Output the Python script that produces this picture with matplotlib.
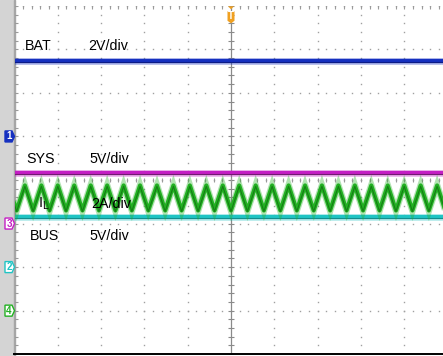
import numpy as np
import matplotlib.pyplot as plt
from matplotlib.patches import Polygon, Rectangle

plt.rcParams['font.family'] = ['Liberation Sans', 'DejaVu Sans']

# screen: 10 x 8 divisions, pixels per division on the saved image
PX_X = 43.3
PX_Y = 43.55

# channel settings (volts or amps per division, ground marker in divisions)
ch_labels = ['BAT', 'BUS', 'SYS', 'IL']
ch_units = ['2V/div', '5V/div', '5V/div', '2A/div']
ch_scale = [2.0, 5.0, 5.0, 2.0]
ch_offset = [1.0, -2.0, -1.0, -3.0]
ch_colors = ['#1530c0', '#1fc4c4', '#c41ec4', '#22b022']
ch_edge = ['#0b1878', '#128080', '#5e1a5e', '#137013']

# flat DC levels
bat_t = [-5.0, 5.0]
bat_v = [3.45, 3.45]
bus_t = [-5.0, 5.0]
bus_v = [5.7, 5.7]
sys_t = [-5.0, 5.0]
sys_v = [5.8, 5.8]

# inductor current ripple, vertices of the triangle (time in div, amps)
il_t = [-5.00, -4.95, -4.76, -4.57, -4.38, -4.19, -4.00, -3.81, -3.62, -3.43,
        -3.24, -3.05, -2.86, -2.67, -2.48, -2.29, -2.10, -1.91, -1.71, -1.52,
        -1.33, -1.14, -0.95, -0.76, -0.57, -0.38, -0.19, 0.00, 0.19, 0.38,
        0.57, 0.76, 0.95, 1.14, 1.33, 1.52, 1.71, 1.91, 2.10, 2.29,
        2.48, 2.67, 2.86, 3.05, 3.24, 3.43, 3.62, 3.81, 4.00, 4.19,
        4.38, 4.57, 4.76, 4.95, 5.00]
il_a = [4.90, 4.60, 5.75, 4.60, 5.75, 4.60, 5.75, 4.60, 5.75, 4.60,
        5.75, 4.60, 5.75, 4.60, 5.75, 4.60, 5.75, 4.60, 5.75, 4.60,
        5.75, 4.60, 5.75, 4.60, 5.75, 4.60, 5.75, 4.60, 5.75, 4.60,
        5.75, 4.60, 5.75, 4.60, 5.75, 4.60, 5.75, 4.60, 5.75, 4.60,
        5.75, 4.60, 5.75, 4.60, 5.75, 4.60, 5.75, 4.60, 5.75, 4.60,
        5.75, 4.60, 5.75, 4.60, 4.90]

# label positions (div)
lab_x = [-4.76, -4.64, -4.73, -4.46]
unit_x = [-3.30, -3.26, -3.26, -3.23]
lab_y = [2.99, -1.38, 0.39, -0.64]


def px_x(p):
    return p / PX_X


def px_y(p):
    return p / PX_Y


fig = plt.figure(figsize=(4.43, 3.56), dpi=100)
ax = fig.add_axes([14.5 / 443, 1.8 / 356, 433 / 443, 348.4 / 356])
ax.set_xlim(-5, 5)
ax.set_ylim(-4, 4)
ax.axis('off')

# left side strip (behind the axes)
fig.patches.append(Rectangle((0, 0), 14 / 443, 1, transform=fig.transFigure,
                             color='#d4d4d4', zorder=-2))
fig.patches.append(Rectangle((13.5 / 443, 0), 1.5 / 443, 1, transform=fig.transFigure,
                             color='#a6a6a6', zorder=-2))

# graticule dots
minor = np.round(np.arange(-4.0, 4.01, 0.2), 2)
minor_x = np.round(np.arange(-5.0, 5.01, 0.2), 2)
dot = dict(ls='none', marker='s', ms=1.0, mec='none', mfc='#a0a0a0', zorder=1)
for gx in range(-4, 6):
    if gx == 0:
        continue
    ax.plot(np.full_like(minor, gx), minor, **dot)
for gy in range(-3, 5):
    ax.plot(minor_x, np.full_like(minor_x, gy), **dot)

# left edge and top edge tick marks
ax.plot(np.full_like(minor, -5) + px_x(1.5), minor, ls='none', marker='_',
        ms=2.2, mew=0.8, color='#9a9a9a', zorder=1)
ax.plot(minor_x, np.full_like(minor_x, 4) - px_y(1.5), ls='none', marker='|',
        ms=2.2, mew=0.8, color='#9a9a9a', zorder=1)

# centre cross
ax.axvline(0, color='#8a8a8a', lw=0.9, zorder=1)
ax.plot(np.zeros_like(minor), minor, ls='none', marker='_', ms=4,
        mew=0.8, color='#8a8a8a', zorder=1)
ax.plot(minor_x, np.zeros_like(minor_x), ls='none', marker='|', ms=3.5,
        mew=0.8, color='#9a9a9a', zorder=1)

# bottom border
ax.plot([-5, 5], [-4, -4], color='black', lw=1.4, clip_on=False, zorder=2)

# traces
series_t = [bat_t, bus_t, sys_t, il_t]
series_v = [bat_v, bus_v, sys_v, il_a]
for i in range(4):
    y = np.array(series_v[i]) / ch_scale[i] + ch_offset[i]
    ax.plot(series_t[i], y, color=ch_colors[i], lw=4.8, alpha=0.35,
            solid_joinstyle='miter', zorder=3 + i)
    ax.plot(series_t[i], y, color=ch_colors[i], lw=3.0, zorder=3 + i)
    ax.plot(series_t[i], y - px_y(0.9), color=ch_edge[i], lw=0.8,
            alpha=0.8, zorder=3 + i)

# channel text
for i in range(4):
    if ch_labels[i] == 'IL':
        name = r'$\mathregular{I_L}$'
    else:
        name = ch_labels[i]
    ax.text(lab_x[i], lab_y[i], name, fontsize=10.3, ha='left',
            va='baseline', zorder=10)
    ax.text(unit_x[i], lab_y[i], ch_units[i], fontsize=10.3, ha='left',
            va='baseline', zorder=10)

# ground markers on the left
tag_num = ['1', '2', '3', '4']
for i in range(4):
    yc = ch_offset[i]
    x0, x1, x2 = -5 - px_x(9.5), -5 - px_x(2.5), -5
    h = px_y(5.5)
    pts = [(x0, yc - h), (x1, yc - h), (x2, yc), (x1, yc + h), (x0, yc + h)]
    if i == 0:
        face, txt = ch_colors[i], 'white'
    else:
        face, txt = 'white', ch_colors[i]
    ax.add_patch(Polygon(pts, closed=True, fc=face, ec=ch_colors[i], lw=1.0,
                         clip_on=False, zorder=10))
    ax.text((x0 + x1) / 2 + px_x(0.5), yc, tag_num[i], color=txt, fontsize=7,
            fontweight='bold', ha='center', va='center', clip_on=False, zorder=11)

# trigger position marker
trig = '#f0a020'
ax.add_patch(Polygon([(-px_x(3), 4 - px_y(0.5)), (px_x(3), 4 - px_y(0.5)),
                      (0, 4 - px_y(3.5))], closed=True, fc=trig, ec='none',
                     clip_on=False, zorder=10))
ax.add_patch(Polygon([(-px_x(3.5), 4 - px_y(5.5)), (px_x(3.5), 4 - px_y(5.5)),
                      (px_x(3.5), 4 - px_y(15)), (0, 4 - px_y(17.5)),
                      (-px_x(3.5), 4 - px_y(15))], closed=True, fc=trig,
                     ec='none', zorder=10))
ax.text(0, 4 - px_y(10.5), 'T', color='white', fontsize=7, fontweight='bold',
        ha='center', va='center', zorder=11)

fig.savefig('out.png', dpi=100)
